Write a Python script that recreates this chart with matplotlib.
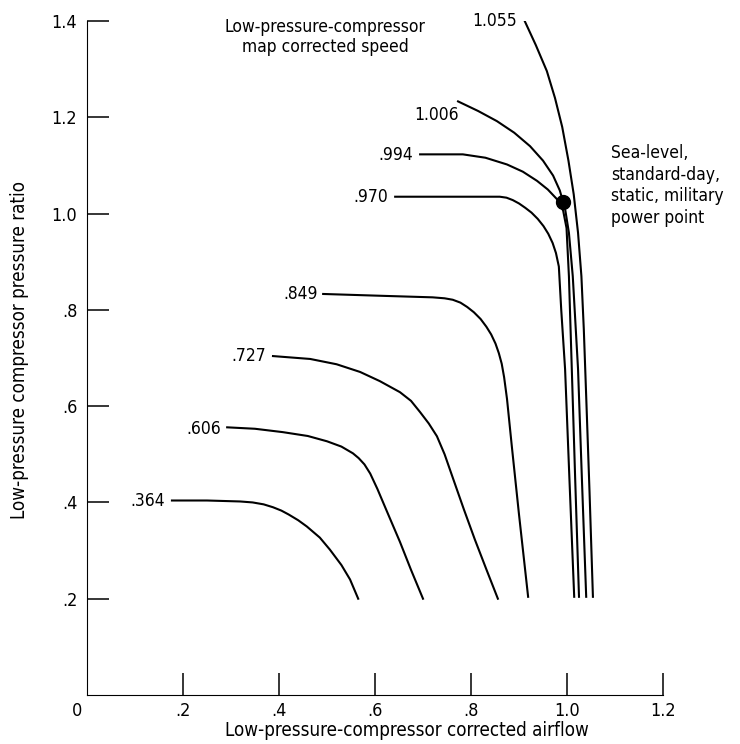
import numpy as np
import matplotlib.pyplot as plt

plt.rcParams['font.family'] = ['DejaVu Sans']
plt.rcParams['font.stretch'] = 'condensed'

# corrected speed lines: low-pressure-compressor corrected airflow vs pressure ratio
speeds = ['.364', '.606', '.727', '.849', '.970', '.994', '1.006', '1.055']

flow_364 = [0.177, 0.25, 0.319, 0.345, 0.368, 0.3875, 0.405, 0.42, 0.44, 0.458, 0.485, 0.506, 0.53, 0.548, 0.565]
pr_364 = [0.404, 0.404, 0.402, 0.400, 0.396, 0.390, 0.383, 0.375, 0.363, 0.350, 0.327, 0.302, 0.27, 0.240, 0.200]

flow_606 = [0.292, 0.35, 0.408, 0.46, 0.50, 0.53, 0.554, 0.566, 0.578, 0.590, 0.605, 0.625, 0.652, 0.675, 0.700]
pr_606 = [0.556, 0.553, 0.546, 0.538, 0.527, 0.516, 0.502, 0.492, 0.479, 0.460, 0.428, 0.381, 0.318, 0.260, 0.200]

flow_727 = [0.3875, 0.465, 0.52, 0.569, 0.61, 0.652, 0.675, 0.694, 0.712, 0.729, 0.745, 0.7625, 0.785, 0.808, 0.832, 0.856]
pr_727 = [0.704, 0.698, 0.687, 0.671, 0.652, 0.629, 0.611, 0.5875, 0.564, 0.5375, 0.50, 0.450, 0.386, 0.323, 0.261, 0.200]

flow_849 = [0.492, 0.62, 0.72, 0.745, 0.762, 0.778, 0.792, 0.806, 0.820, 0.832, 0.842, 0.851, 0.858, 0.864, 0.869, 0.875, 0.885, 0.90, 0.919]
pr_849 = [0.833, 0.829, 0.826, 0.824, 0.821, 0.815, 0.806, 0.795, 0.781, 0.765, 0.749, 0.730, 0.710, 0.688, 0.660, 0.615, 0.517, 0.375, 0.204]

flow_970 = [0.642, 0.75, 0.860, 0.874, 0.887, 0.900, 0.913, 0.926, 0.939, 0.951, 0.961, 0.970, 0.977, 0.983, 0.988, 0.996, 1.005, 1.015]
pr_970 = [1.035, 1.035, 1.035, 1.033, 1.028, 1.021, 1.012, 1.002, 0.989, 0.974, 0.958, 0.939, 0.918, 0.890, 0.80, 0.677, 0.45, 0.204]

flow_994 = [0.694, 0.783, 0.83, 0.875, 0.908, 0.9375, 0.96, 0.979, 0.992, 0.999, 1.004, 1.010, 1.017, 1.025]
pr_994 = [1.123, 1.123, 1.116, 1.102, 1.087, 1.068, 1.050, 1.030, 1.006, 0.97, 0.87, 0.677, 0.45, 0.204]

flow_1006 = [0.773, 0.815, 0.854, 0.890, 0.923, 0.95, 0.971, 0.985, 0.996, 1.004, 1.012, 1.023, 1.031, 1.040]
pr_1006 = [1.233, 1.213, 1.192, 1.168, 1.140, 1.110, 1.079, 1.048, 1.010, 0.96, 0.87, 0.677, 0.45, 0.204]

flow_1055 = [0.910, 0.935, 0.958, 0.975, 0.990, 1.003, 1.014, 1.023, 1.030, 1.035, 1.040, 1.047, 1.054]
pr_1055 = [1.404, 1.35, 1.296, 1.24, 1.18, 1.11, 1.04, 0.96, 0.87, 0.76, 0.62, 0.42, 0.204]

flows = [flow_364, flow_606, flow_727, flow_849, flow_970, flow_994, flow_1006, flow_1055]
ratios = [pr_364, pr_606, pr_727, pr_849, pr_970, pr_994, pr_1006, pr_1055]

# label anchors (right edge of each speed label)
label_x = [0.1625, 0.279, 0.373, 0.481, 0.627, 0.679, 0.775, 0.896]
label_y = [0.402, 0.552, 0.704, 0.833, 1.035, 1.121, 1.204, 1.400]

# sea-level standard-day static military power point
mil_flow = 0.992
mil_pr = 1.023

x_ticks = [0.2, 0.4, 0.6, 0.8, 1.0, 1.2]
x_ticklabels = ['.2', '.4', '.6', '.8', '1.0', '1.2']
y_ticks = [0.2, 0.4, 0.6, 0.8, 1.0, 1.2, 1.4]
y_ticklabels = ['.2', '.4', '.6', '.8', '1.0', '1.2', '1.4']

fig = plt.figure(figsize=(7.4, 7.44), dpi=100)
ax = fig.add_axes([87/740, 1 - 695/744, 576/740, 674/744])

for f, p, lx, ly, s in zip(flows, ratios, label_x, label_y, speeds):
    ax.plot(f, p, color='black', lw=1.5)
    ax.text(lx, ly, s, ha='right', va='center', fontsize=12.5)

ax.plot(mil_flow, mil_pr, 'o', color='black', markersize=10)

ax.text(0.496, 1.367, 'Low-pressure-compressor\nmap corrected speed',
        ha='center', va='center', fontsize=12.5, linespacing=1.1)
ax.text(1.092, 1.058, 'Sea-level,\nstandard-day,\nstatic, military\npower point',
        ha='left', va='center', fontsize=12.5, linespacing=1.25)

ax.set_xlim(0, 1.2)
ax.set_ylim(0, 1.4)
ax.spines['top'].set_visible(False)
ax.spines['right'].set_visible(False)
ax.set_xticks(x_ticks)
ax.set_xticklabels(x_ticklabels)
ax.set_yticks(y_ticks)
ax.set_yticklabels(y_ticklabels)
ax.tick_params(direction='in', length=16, width=1.1, labelsize=13)
ax.tick_params(axis='x', pad=5)
ax.tick_params(axis='y', pad=7)
ax.text(-0.02, -0.014, '0', ha='center', va='top', fontsize=13)

fig.text(20/740, 1 - 350/744, 'Low-pressure compressor pressure ratio',
         rotation=90, ha='center', va='center', fontsize=13.5)
fig.text(407/740, 1 - 730/744, 'Low-pressure-compressor corrected airflow',
         ha='center', va='center', fontsize=13.5)

plt.savefig('out.png', dpi=100)
